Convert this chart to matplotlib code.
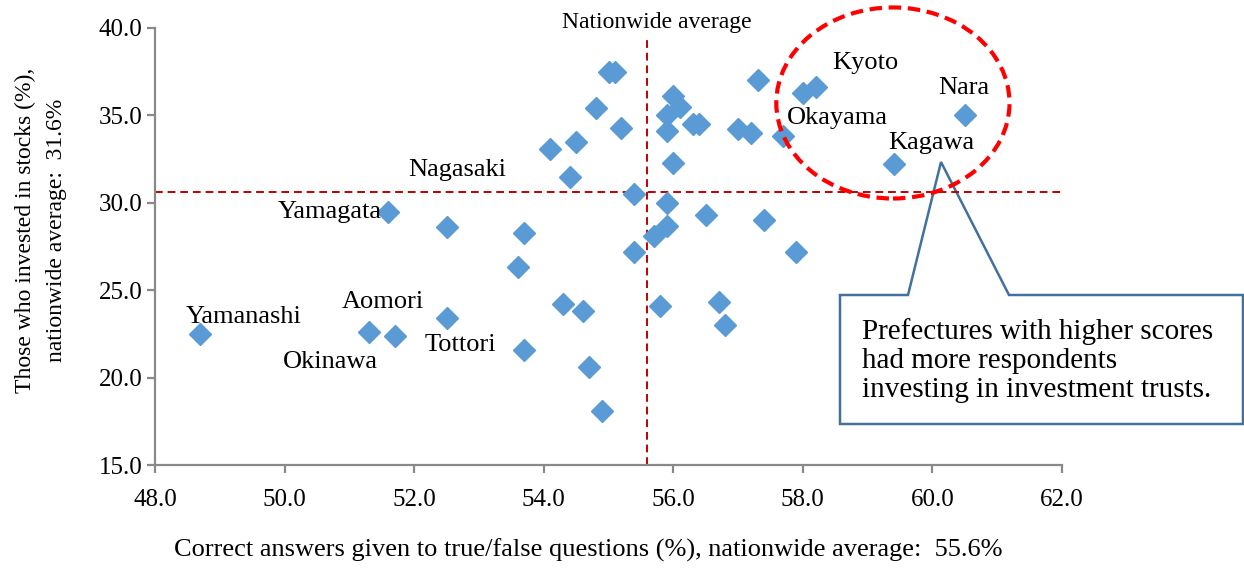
import matplotlib.pyplot as plt
from matplotlib.patches import Ellipse, Polygon

plt.rcParams['font.family'] = ['Liberation Serif', 'DejaVu Serif']
plt.rcParams['font.size'] = 16

# Correct answer rate (%) and share investing in stocks (%) per prefecture
correct_rate = [48.7, 51.3, 51.7, 51.6, 52.5, 52.5, 53.7, 53.7, 53.6, 54.1,
                54.5, 54.4, 54.8, 54.3, 54.6, 54.7, 54.9, 55.0, 55.1, 55.2,
                55.4, 55.4, 55.7, 55.8, 55.9, 55.9, 55.9, 55.9, 56.0, 56.1,
                56.0, 56.3, 56.4, 56.5, 56.7, 56.8, 57.0, 57.2, 57.3, 57.4,
                57.7, 57.9, 58.0, 58.2, 59.4, 60.5]
stock_rate = [22.5, 22.6, 22.4, 29.5, 28.6, 23.4, 28.3, 21.6, 26.3, 33.1,
              33.5, 31.5, 35.4, 24.2, 23.8, 20.6, 18.1, 37.5, 37.5, 34.3,
              30.5, 27.2, 28.1, 24.1, 28.7, 30.0, 35.0, 34.1, 36.1, 35.5,
              32.3, 34.5, 34.5, 29.3, 24.3, 23.0, 34.2, 34.0, 37.0, 29.0,
              33.8, 27.2, 36.3, 36.6, 32.2, 35.0]

avg_correct = 55.6
avg_stock_line = 30.6

# prefecture name labels: (text, x, y)
label_names = ['Kyoto', 'Nara', 'Okayama', 'Kagawa', 'Nagasaki', 'Yamagata',
               'Yamanashi', 'Aomori', 'Okinawa', 'Tottori']
label_x = [58.97, 60.48, 58.54, 59.99, 52.66, 50.70, 49.37, 51.52, 50.70, 52.71]
label_y = [38.0, 36.57, 34.85, 33.42, 31.88, 29.47, 23.47, 24.33, 20.89, 21.86]

W, H = 1244, 569
fig = plt.figure(figsize=(W / 100, H / 100), dpi=100)
ax = fig.add_axes([155 / W, 1 - 465 / H, (1062 - 155) / W, (465 - 28) / H])

ax.set_xlim(48, 62)
ax.set_ylim(15, 40)
ax.set_xticks([48, 50, 52, 54, 56, 58, 60, 62])
ax.set_yticks([15, 20, 25, 30, 35, 40])
ax.xaxis.set_major_formatter(plt.FuncFormatter(lambda v, _: f'{v:.1f}'))
ax.yaxis.set_major_formatter(plt.FuncFormatter(lambda v, _: f'{v:.1f}'))

for side in ['top', 'right']:
    ax.spines[side].set_visible(False)
for side in ['left', 'bottom']:
    ax.spines[side].set_color('#898989')
    ax.spines[side].set_linewidth(1.6)
ax.tick_params(direction='out', length=6, width=1.6, color='#898989',
               labelsize=18)
ax.tick_params(axis='x', pad=11)
ax.tick_params(axis='y', pad=3)

# nationwide average reference lines
ax.axhline(avg_stock_line, color='#C00000', linestyle=(0, (4, 2.5)), lw=1.4, zorder=2)
ax.plot([avg_correct, avg_correct], [15, 39.4], color='#C00000',
        linestyle=(0, (4, 2.5)), lw=1.4, zorder=2, clip_on=False)
ax.text(avg_correct + 0.15, 40.3, 'Nationwide average', ha='center', va='center',
        fontsize=17)

ax.plot(correct_rate, stock_rate, linestyle='none', marker='D', markersize=11.5,
        color='#5B9BD5', markeredgecolor='#5B9BD5', zorder=3)

for name, lx, ly in zip(label_names, label_x, label_y):
    ax.text(lx, ly, name, ha='center', va='center', fontsize=19, zorder=4)

# highlight group of top prefectures
ell = Ellipse((59.39, 35.71), 3.6, 10.93, fill=False, edgecolor='#FF0000',
              linestyle=(0, (3, 1.6)), lw=3, clip_on=False, zorder=4)
ax.add_patch(ell)

# callout box with pointer
pts = [(840, 295), (908, 295), (941, 162), (1009, 295), (1243, 295),
       (1243, 424), (840, 424)]
callout = Polygon([(px / W, 1 - py / H) for px, py in pts], closed=True,
                  facecolor='white', edgecolor='#41719C', lw=1.8,
                  transform=fig.transFigure, clip_on=False, zorder=1)
ax.add_patch(callout)
fig.text(862 / W, 1 - 361 / H,
         'Prefectures with higher scores\nhad more respondents\ninvesting in investment trusts.',
         ha='left', va='center', fontsize=21, linespacing=1.15)

fig.text(588 / W, 1 - 550 / H,
         'Correct answers given to true/false questions (%), nationwide average:  55.6%',
         ha='center', va='center', fontsize=19)
fig.text(41 / W, 1 - 230 / H,
         'Those who invested in stocks (%),\nnationwide average:  31.6%',
         rotation=90, ha='center', va='center', fontsize=17, linespacing=1.6)

fig.savefig('out.png', dpi=100)
